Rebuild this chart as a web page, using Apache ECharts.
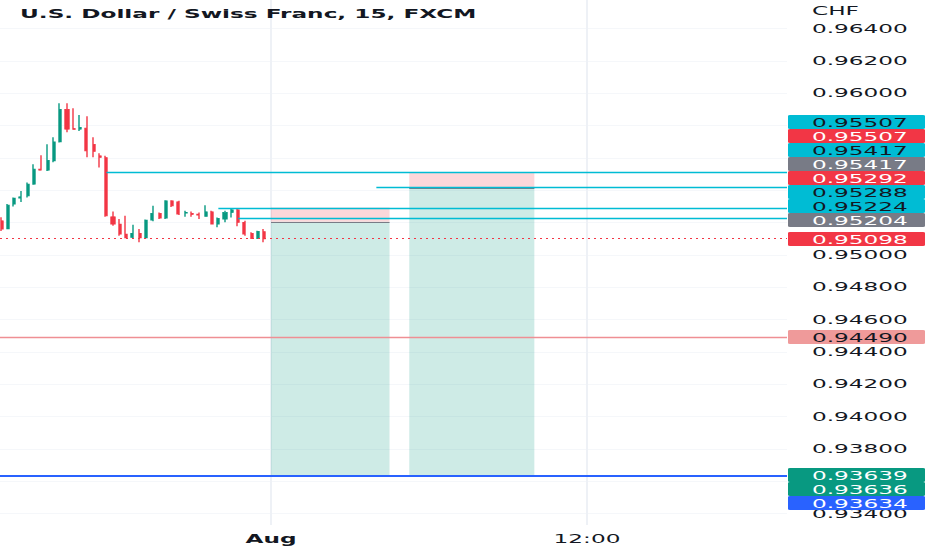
<!DOCTYPE html>
<html lang="en" style="height: 100%">
<head>
  <meta charset="utf-8">
  <style>
    html, body { margin: 0; overflow: hidden; background: #fff; }
    /* the source screenshot is stretched 2x horizontally, so draw at half width and stretch */
    #container { width: 466px; height: 550px; transform: scaleX(2); transform-origin: 0 0; }
  </style>
</head>
<body>
  <div id="container"></div>

  <script type="text/javascript" src="https://cdn.jsdelivr.net/npm/echarts@6/dist/echarts.min.js"></script>

  <script type="text/javascript">
    // 15 min bars, x = bar slot counted from 1 Aug 00:00
    var firstSlot = -41;
    var candleOpen  = [0.95210,0.95160,0.95314,0.95351,0.95365,0.95437,0.95530,0.95523,0.95581,0.95698,0.95900,0.95781,0.95777,0.95783,0.95684,0.95612,0.95602,0.95235,0.95190,0.95128,0.95108,0.95133,0.95104,0.95215,0.95256,0.95227,0.95334,0.95328,0.95258,0.95256,0.95252,0.95238,0.95266,0.95190,0.95221,0.95262,0.95278,0.95201,0.95133,0.95102,0.95143];
    var candleClose = [0.95159,0.95307,0.95351,0.95359,0.95437,0.95530,0.95523,0.95585,0.95698,0.95900,0.95777,0.95775,0.95789,0.95643,0.95639,0.95602,0.95241,0.95190,0.95128,0.95104,0.95133,0.95104,0.95215,0.95256,0.95227,0.95334,0.95303,0.95252,0.95262,0.95250,0.95246,0.95266,0.95190,0.95225,0.95262,0.95278,0.95201,0.95128,0.95102,0.95145,0.95098];
    var candleLow   = [0.95147,0.95159,0.95299,0.95326,0.95355,0.95433,0.95523,0.95519,0.95573,0.95694,0.95758,0.95775,0.95766,0.95604,0.95604,0.95540,0.95236,0.95180,0.95118,0.95102,0.95104,0.95077,0.95100,0.95207,0.95221,0.95221,0.95295,0.95246,0.95235,0.95235,0.95221,0.95238,0.95190,0.95170,0.95201,0.95231,0.95176,0.95118,0.95098,0.95098,0.95077];
    var candleHigh  = [0.95233,0.95314,0.95355,0.95394,0.95448,0.95560,0.95616,0.95684,0.95727,0.95937,0.95937,0.95906,0.95865,0.95857,0.95727,0.95628,0.95612,0.95268,0.95221,0.95241,0.95186,0.95159,0.95219,0.95303,0.95262,0.95338,0.95338,0.95334,0.95272,0.95268,0.95262,0.95307,0.95272,0.95231,0.95272,0.95287,0.95287,0.95210,0.95139,0.95149,0.95159];

    var xTickValues = [0, 48];
    var xTickLabels = ['Aug', '12:00'];
    var yTickValues = [0.934,0.936,0.938,0.940,0.942,0.944,0.946,0.948,0.950,0.952,0.954,0.956,0.958,0.960,0.962,0.964];

    // horizontal rays drawn from a bar to the right edge
    var rayPrices = [0.95507, 0.95417, 0.95288, 0.95224];
    var rayStarts = [-25, 16, -8, -5];

    // short positions
    var posStart  = [0, 21];
    var posEnd    = [18, 40];
    var posEntry  = [0.95204, 0.95417];
    var posStop   = [0.95292, 0.95507];
    var posTarget = [0.93636, 0.93639];

    var lastPrice = 0.95098;
    var alertPrice = 0.94490;
    var bluePrice = 0.93634;

    // price scale tags, top to bottom
    var tagPrices = [0.95507, 0.95507, 0.95417, 0.95417, 0.95292, 0.95288, 0.95224, 0.95204, 0.95098, 0.94490, 0.93639, 0.93636, 0.93634];
    var tagKinds  = ['ray', 'stop', 'ray', 'entry', 'stop', 'ray', 'ray', 'entry', 'last', 'alert', 'target', 'target', 'line'];

    var FONT = 'DejaVu Sans';
    var TXT = '#131722';
    var UP = '#089981', DOWN = '#F23645';
    var tagStyle = {
      ray:    { bg: '#00BCD4', fg: TXT },
      stop:   { bg: '#F23645', fg: '#ffffff' },
      entry:  { bg: '#787B86', fg: '#ffffff' },
      last:   { bg: '#F23645', fg: '#ffffff' },
      alert:  { bg: '#EF9A9A', fg: TXT },
      target: { bg: '#089981', fg: '#ffffff' },
      line:   { bg: '#2962FF', fg: '#ffffff' }
    };
    // dy: the entry line sits on the top row of the target zone
    var levelStyle = {
      ray:   { stroke: '#00BCD4', lineWidth: 1.5, dy: 0 },
      entry: { stroke: '#787B86', lineWidth: 1.2, dy: 1 },
      alert: { stroke: '#EF8F94', lineWidth: 1.5, dy: 0 },
      line:  { stroke: '#2962FF', lineWidth: 2, dy: 0 },
      last:  { stroke: '#F23645', lineWidth: 1.2, dy: 0, lineDash: [1, 2] }
    };
    var TAG_H = 14;

    // spread overlapping tags apart, keeping the last price tag where it is
    function stackTags(ys, fixed) {
      var out = ys.slice();
      for (var i = fixed + 1; i < out.length; i++) {
        out[i] = Math.max(ys[i], out[i - 1] + (i - 1 === fixed ? TAG_H + 5 : TAG_H));
      }
      for (var j = fixed - 1; j >= 0; j--) {
        out[j] = Math.min(ys[j], out[j + 1] - (j + 1 === fixed ? TAG_H + 5 : TAG_H));
      }
      return out;
    }

    var candles = candleOpen.map(function (o, i) {
      return [firstSlot + i, o, candleClose[i], candleLow[i], candleHigh[i]];
    });

    var X_MIN = -41.17, X_MAX = 78.38;

    // level lines: [from slot, to slot, price], kind kept alongside
    var levels = [], levelKinds = [];
    posEntry.forEach(function (p, i) { levels.push([posStart[i], posEnd[i], p]); levelKinds.push('entry'); });
    rayPrices.forEach(function (p, i) { levels.push([rayStarts[i], X_MAX, p]); levelKinds.push('ray'); });
    levels.push([X_MIN, X_MAX, alertPrice]); levelKinds.push('alert');
    levels.push([X_MIN, X_MAX, bluePrice]); levelKinds.push('line');
    levels.push([X_MIN, X_MAX, lastPrice]); levelKinds.push('last');

    var stopAreas = posStart.map(function (s, i) {
      return [{ coord: [s, posStop[i]] }, { coord: [posEnd[i], posEntry[i]] }];
    });
    var targetAreas = posStart.map(function (s, i) {
      return [{ coord: [s, posEntry[i]] }, { coord: [posEnd[i], posTarget[i]] }];
    });

    function areaSeries(name, data, color) {
      return {
        name: name, type: 'line', data: [], silent: true,
        markArea: { silent: true, label: { show: false }, itemStyle: { color: color },
                    emphasis: { disabled: true }, data: data }
      };
    }

    var dom = document.getElementById('container');
    var myChart = echarts.init(dom, null, { renderer: 'svg' });

    var option = {
      animation: false,
      backgroundColor: '#ffffff',
      textStyle: { fontFamily: FONT },
      title: [
        { text: 'U.S. Dollar / Swiss Franc, 15, FXCM', left: 10, top: 7.5, padding: 0,
          textStyle: { fontFamily: FONT, fontSize: 11.6, fontWeight: 'bold', color: TXT } },
        { text: 'CHF', left: 406, top: 5, padding: 0,
          textStyle: { fontFamily: FONT, fontSize: 11.6, fontWeight: 'normal', color: TXT } }
      ],
      grid: { left: 0, right: 72.5, top: 0, bottom: 25 },
      xAxis: {
        type: 'value', min: X_MIN, max: X_MAX,
        axisLine: { show: false },
        axisTick: { show: false, customValues: xTickValues },
        splitLine: { show: true, lineStyle: { color: '#eef1f6', width: 1 } },
        axisLabel: {
          customValues: xTickValues, margin: 8,
          fontFamily: FONT, fontSize: 11.6, color: TXT,
          formatter: function (v) {
            var s = xTickLabels[xTickValues.indexOf(v)];
            return v === 0 ? '{b|' + s + '}' : s;
          },
          rich: { b: { fontFamily: FONT, fontSize: 11.6, fontWeight: 'bold', color: TXT } }
        }
      },
      yAxis: {
        type: 'value', position: 'right', min: 0.93329, max: 0.96576, scale: true,
        axisLine: { show: false },
        axisTick: { show: false, customValues: yTickValues },
        splitLine: { show: true, lineStyle: { color: '#f5f7fa', width: 1 } },
        axisLabel: {
          customValues: yTickValues, margin: 12.5,
          fontFamily: FONT, fontSize: 11.6, color: TXT,
          formatter: function (v) { return v.toFixed(5); }
        }
      },
      series: [
        areaSeries('stop zone', stopAreas, 'rgba(242,54,69,0.2)'),
        areaSeries('target zone', targetAreas, 'rgba(8,153,129,0.2)'),
        {
          type: 'candlestick',
          data: candles,
          encode: { x: 0, y: [1, 2, 3, 4] },
          barWidth: 1.6,
          itemStyle: { color: UP, color0: DOWN, borderColor: UP, borderColor0: DOWN, borderWidth: 0.7 }
        },
        {
          name: 'levels',
          type: 'custom',
          z: 4,
          silent: true,
          clip: true,
          data: levels,
          encode: { x: [0, 1], y: 2 },
          renderItem: function (params, api) {
            var st = levelStyle[levelKinds[params.dataIndex]];
            var a = api.coord([api.value(0), api.value(2)]);
            var b = api.coord([api.value(1), api.value(2)]);
            // snap to the pixel grid so thin lines stay crisp
            var y = (st.lineWidth < 2 ? Math.floor(a[1]) + 0.5 : Math.round(a[1])) + st.dy;
            return {
              type: 'line',
              shape: { x1: a[0], y1: y, x2: b[0], y2: y },
              style: { stroke: st.stroke, lineWidth: st.lineWidth, lineDash: st.lineDash || null, fill: null }
            };
          }
        },
        {
          name: 'price tags',
          type: 'custom',
          z: 10,
          silent: true,
          clip: false,
          data: tagPrices.map(function (p) { return [0, p]; }),
          renderItem: function (params, api) {
            var i = params.dataIndex;
            var cs = params.coordSys;
            var ys = tagPrices.map(function (p) { return api.coord([0, p])[1]; });
            var placed = stackTags(ys, tagKinds.indexOf('last'));
            var st = tagStyle[tagKinds[i]];
            var x0 = cs.x + cs.width + 0.5;
            var yTop = Math.round(placed[i] - 7);
            return {
              type: 'group',
              children: [
                { type: 'rect', shape: { x: x0, y: yTop, width: 68.5, height: 14, r: 1 }, style: { fill: st.bg } },
                { type: 'text', x: x0 + 12, y: yTop + 7.5,
                  style: { text: tagPrices[i].toFixed(5), fill: st.fg, fontFamily: FONT, fontSize: 11.6, align: 'left', verticalAlign: 'middle' } }
              ]
            };
          }
        }
      ]
    };

    myChart.setOption(option);

    // like the price scale, drop tick labels that sit under a tag
    var tagYs = stackTags(tagPrices.map(function (p) {
      return myChart.convertToPixel({ gridIndex: 0 }, [0, p])[1];
    }), tagKinds.indexOf('last'));
    var shownTicks = yTickValues.filter(function (v) {
      var y = myChart.convertToPixel({ gridIndex: 0 }, [0, v])[1];
      return tagYs.every(function (t) { return Math.abs(t - y) > 8.5; });
    });
    myChart.setOption({ yAxis: { axisLabel: { customValues: shownTicks } } });
  </script>
</body>
</html>
